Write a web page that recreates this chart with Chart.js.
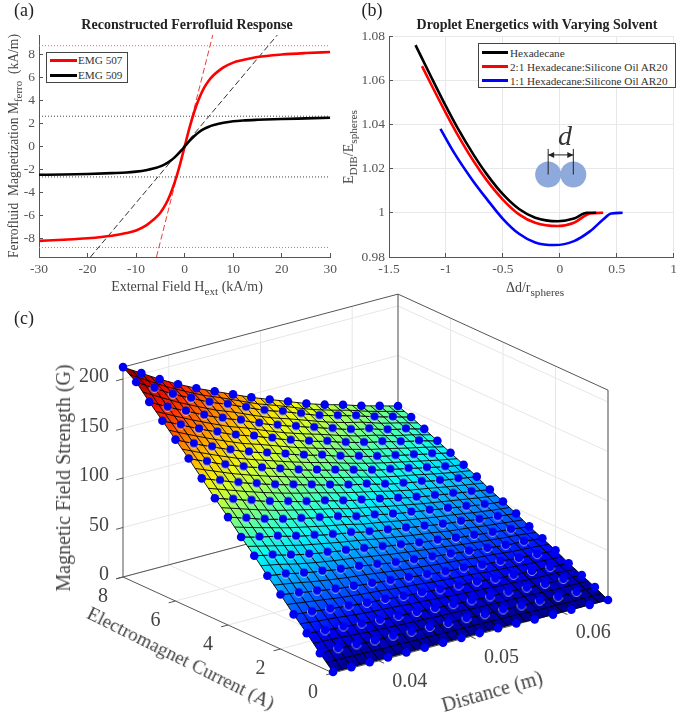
<!DOCTYPE html>
<html>
<head>
<meta charset="utf-8">
<title>Ferrofluid figure</title>
<script src="https://cdn.jsdelivr.net/npm/chart.js@4"></script>
<style>
  html, body { margin: 0; padding: 0; background: #fff; }
  #page { position: relative; width: 685px; height: 718px; overflow: hidden; font-family: "Liberation Serif", serif; color: #444; }
  canvas { position: absolute; }
  .t { position: absolute; white-space: nowrap; transform: translate(-50%, -50%); line-height: 1; }
  .t sub { font-size: 0.8em; line-height: 0; }
  .v { transform: translate(-50%, -50%) rotate(-90deg); }
  .title { font-weight: bold; font-size: 14px; color: #222; }
  .panel { font-size: 18px; color: #222; }
  .legend { position: absolute; background: #fff; border: 1px solid #444; box-sizing: border-box; font-size: 11.2px; color: #333; }
  .legend div { position: absolute; white-space: nowrap; line-height: 14px; }
  .legend i { position: absolute; height: 2.5px; }
</style>
</head>
<body>
<div id="page">
  <canvas id="chartC" width="685" height="718" style="left:0;top:0"></canvas>
  <canvas id="chartA" width="345" height="300" style="left:0;top:0"></canvas>
  <canvas id="chartB" width="340" height="300" style="left:345px;top:0"></canvas>

  <div class="t panel" style="left:24px;top:10px">(a)</div>
  <div class="t panel" style="left:372px;top:10px">(b)</div>
  <div class="t panel" style="left:24px;top:318px">(c)</div>

  <div class="t title" style="left:187px;top:25px">Reconstructed Ferrofluid Response</div>
  <div class="t v" style="left:14px;top:146px;font-size:13.6px">Ferrofluid&nbsp; Magnetization M<sub>ferro</sub>&nbsp; (kA/m)</div>
  <div class="t" style="left:187px;top:287px;font-size:14px">External Field H<sub>ext</sub> (kA/m)</div>
  <div class="legend" style="left:46px;top:52px;width:82px;height:31px">
    <i style="left:3px;top:6px;width:27px;background:#f00"></i><div style="left:31px;top:0">EMG 507</div>
    <i style="left:3px;top:21px;width:27px;background:#000"></i><div style="left:31px;top:15px">EMG 509</div>
  </div>

  <div class="t title" style="left:537px;top:25px">Droplet Energetics with Varying Solvent</div>
  <div class="t v" style="left:349px;top:147px;font-size:14px">E<sub>DIB</sub>/E<sub>spheres</sub></div>
  <div class="t" style="left:535px;top:288px;font-size:14px">&Delta;d/r<sub>spheres</sub></div>
  <div class="legend" style="left:478px;top:43px;width:198px;height:45px">
    <i style="left:3px;top:7px;width:26px;background:#000"></i><div style="left:31px;top:2px">Hexadecane</div>
    <i style="left:3px;top:21px;width:26px;background:#f00"></i><div style="left:31px;top:16px">2:1 Hexadecane:Silicone Oil AR20</div>
    <i style="left:3px;top:35px;width:26px;background:#00f"></i><div style="left:31px;top:30px">1:1 Hexadecane:Silicone Oil AR20</div>
  </div>
  <div class="t" style="left:565px;top:136px;font-size:28px;font-style:italic;color:#333">d</div>

  <div class="t v" style="left:63px;top:478px;font-size:20px">Magnetic Field Strength (G)</div>
  <div class="t" style="left:181px;top:658px;font-size:19.2px;transform:translate(-50%,-50%) rotate(26.5deg)">Electromagnet Current (A)</div>
  <div class="t" style="left:492px;top:691px;font-size:20px;transform:translate(-50%,-50%) rotate(-16deg)">Distance (m)</div>
</div>

<script>
// (a) magnetization curves
const hField = [-30, -25, -20, -15, -12, -10, -8, -7, -6, -5, -4, -3, -2, -1, 0, 1, 2, 3, 4, 5, 6, 7, 8, 10, 12, 15, 20, 25, 30];
const emg507 = [-8.2, -8.1, -7.97, -7.75, -7.52, -7.3, -6.88, -6.55, -6.2, -5.75, -5.1, -4.2, -3.05, -1.63, 0, 1.63, 3.05, 4.2, 5.1, 5.75, 6.22, 6.58, 6.88, 7.3, 7.52, 7.78, 8, 8.13, 8.22];
const emg509 = [-2.45, -2.43, -2.38, -2.31, -2.26, -2.18, -2.06, -1.96, -1.86, -1.72, -1.52, -1.26, -0.92, -0.49, 0, 0.49, 0.92, 1.27, 1.53, 1.73, 1.87, 1.98, 2.07, 2.2, 2.27, 2.33, 2.4, 2.45, 2.5];
const slope507X = [-5.8, 5.8];
const slope509X = [-19.4, 19.1];
const slopeY = [-9.6, 9.7];
const sat507 = 8.77;
const sat509 = 2.64;
const xTicksA = [-30, -20, -10, 0, 10, 20, 30];
const yTicksA = [-8, -6, -4, -2, 0, 2, 4, 6, 8];

// (b) droplet energy curves
const hexX = [-1.267, -1.125, -0.997, -0.898, -0.755, -0.642, -0.5, -0.358, -0.216, -0.017, 0.125, 0.239, 0.32];
const hexY = [1.0759, 1.061, 1.0479, 1.0384, 1.0261, 1.0175, 1.0084, 1.0017, 0.9978, 0.9962, 0.9974, 1.0, 1.0];
const mix21X = [-1.21, -1.125, -0.997, -0.898, -0.755, -0.642, -0.5, -0.358, -0.216, -0.017, 0.125, 0.267, 0.381];
const mix21Y = [1.0664, 1.0576, 1.0448, 1.0354, 1.0232, 1.0148, 1.006, 0.9993, 0.9955, 0.994, 0.9955, 0.9997, 1.0];
const mix11X = [-1.048, -0.926, -0.77, -0.642, -0.5, -0.358, -0.216, -0.045, 0.125, 0.267, 0.381, 0.452, 0.552];
const mix11Y = [1.038, 1.027, 1.015, 1.0063, 0.9973, 0.9905, 0.9866, 0.9854, 0.9872, 0.9917, 0.997, 0.9997, 1.0];
const xTicksB = [-1.5, -1, -0.5, 0, 0.5, 1];
const yTicksB = [0.98, 1, 1.02, 1.04, 1.06, 1.08];

// (c) field map: one row per current, one column per distance
const currents = [8, 7.5, 7, 6.5, 6, 5.5, 5, 4.5, 4, 3.5, 3, 2.5, 2, 1.5, 1, 0.5, 0];
const distances = [0.035, 0.037, 0.039, 0.041, 0.043, 0.045, 0.047, 0.049, 0.051, 0.053, 0.055, 0.057, 0.059, 0.061, 0.063, 0.065];
const fieldG = [
  [212, 201, 190, 180, 171, 163, 155, 147, 140, 133, 126, 120, 115, 109, 104, 99],
  [203, 192, 181, 172, 163, 156, 148, 140, 134, 127, 120, 115, 110, 104, 99, 94],
  [189, 179, 170, 161, 153, 146, 138, 131, 125, 119, 113, 107, 103, 97, 93, 88],
  [176, 167, 158, 150, 142, 136, 129, 122, 116, 111, 105, 100, 96, 91, 87, 82],
  [163, 154, 146, 138, 131, 125, 119, 113, 108, 102, 97, 92, 88, 84, 80, 76],
  [150, 142, 134, 127, 121, 115, 109, 104, 99, 94, 89, 85, 81, 77, 73, 70],
  [136, 129, 122, 116, 110, 105, 100, 95, 90, 86, 81, 77, 74, 70, 67, 64],
  [122, 116, 110, 104, 99, 94, 90, 85, 81, 77, 73, 69, 66, 63, 60, 57],
  [109, 103, 97, 92, 88, 84, 80, 75, 72, 68, 65, 62, 59, 56, 53, 51],
  [95, 90, 86, 81, 77, 73, 70, 66, 63, 60, 57, 54, 52, 49, 47, 45],
  [82, 78, 73, 69, 66, 63, 60, 57, 54, 51, 49, 46, 44, 42, 40, 38],
  [68, 65, 61, 58, 55, 53, 50, 47, 45, 43, 41, 39, 37, 35, 34, 32],
  [55, 52, 49, 46, 44, 42, 40, 38, 36, 34, 33, 31, 30, 28, 27, 26],
  [41, 39, 37, 35, 33, 32, 30, 29, 27, 26, 25, 23, 22, 21, 20, 19],
  [28, 26, 25, 23, 22, 21, 20, 19, 18, 17, 16, 16, 15, 14, 14, 13],
  [14, 14, 13, 12, 12, 11, 11, 10, 10, 9, 9, 8, 8, 7, 7, 7],
  [1, 1, 1, 1, 1, 1, 1, 1, 1, 1, 1, 0, 0, 0, 0, 0]
];
const zTicksC = [0, 50, 100, 150, 200];
const currentTicksC = [0, 2, 4, 6, 8];
const distanceTicksC = [0.04, 0.05, 0.06];
const zTopC = 212;

const AXIS = '#555';
const SERIF = '"Liberation Serif", serif';

function xy(xs, ys) {
  return xs.map((x, i) => ({ x: x, y: ys[i] }));
}

function curve(xs, ys, color) {
  return { data: xy(xs, ys), borderColor: color, borderWidth: 2.6, showLine: true, pointRadius: 0, cubicInterpolationMode: 'monotone' };
}

function guide(xs, ys, color, dash) {
  return { data: xy(xs, ys), borderColor: color, borderWidth: 1, borderDash: dash, showLine: true, pointRadius: 0 };
}

// 2d axis with inward MATLAB ticks and a fixed label band
function axis(min, max, ticks, band, gridColor) {
  return {
    min: min, max: max,
    afterBuildTicks: s => { s.ticks = ticks.map(v => ({ value: v })); },
    afterFit: s => { if (s.isHorizontal()) s.height = band; else s.width = band; },
    border: { color: AXIS, width: 1 },
    grid: { display: true, drawOnChartArea: !!gridColor, color: gridColor || AXIS, tickColor: AXIS, tickLength: -4, z: -1 },
    ticks: { color: AXIS, font: { family: SERIF, size: 13.5 }, padding: 8, maxRotation: 0, autoSkip: false, callback: v => String(v) }
  };
}

function flatOptions(padding, xAxis, yAxis) {
  return {
    responsive: false, animation: false, events: [],
    layout: { padding: padding, autoPadding: false },
    plugins: { legend: { display: false }, tooltip: { enabled: false } },
    scales: { x: xAxis, y: yAxis }
  };
}

new Chart(document.getElementById('chartA'), {
  type: 'scatter',
  data: {
    datasets: [
      curve(hField, emg509, '#000'),
      curve(hField, emg507, '#f00'),
      guide(slope507X, slopeY, '#f03c3c', [6, 3]),
      guide(slope509X, slopeY, '#333', [6, 3]),
      guide([-30, 30], [sat507, sat507], '#f06060', [1, 2]),
      guide([-30, 30], [-sat507, -sat507], '#f06060', [1, 2]),
      guide([-30, 30], [sat509, sat509], '#444', [1, 2]),
      guide([-30, 30], [-sat509, -sat509], '#444', [1, 2])
    ]
  },
  options: flatOptions({ top: 35, right: 10 }, axis(-30, 30, xTicksA, 43), axis(-9.6, 9.7, yTicksA, 39))
});

// droplet sketch inside (b)
const insetPlugin = {
  id: 'inset',
  beforeDatasetsDraw(chart) {
    const { x, y } = chart.scales;
    const c = chart.ctx;
    const x1 = x.getPixelForValue(-0.102), x2 = x.getPixelForValue(0.119);
    const yc = y.getPixelForValue(1.0173), ya = y.getPixelForValue(1.0262), yt = y.getPixelForValue(1.0289);
    c.save();
    c.fillStyle = '#8ea9db';
    [x1, x2].forEach(px => { c.beginPath(); c.arc(px, yc, 13, 0, Math.PI * 2); c.fill(); });
    c.restore();
    c.save();
    c.strokeStyle = '#222'; c.fillStyle = '#222'; c.lineWidth = 1;
    c.beginPath();
    c.moveTo(x1, yt); c.lineTo(x1, yc);
    c.moveTo(x2, yt); c.lineTo(x2, yc);
    c.moveTo(x1, ya); c.lineTo(x2, ya);
    c.stroke();
    c.beginPath();
    c.moveTo(x1, ya); c.lineTo(x1 + 6, ya - 3); c.lineTo(x1 + 6, ya + 3); c.closePath();
    c.moveTo(x2, ya); c.lineTo(x2 - 6, ya - 3); c.lineTo(x2 - 6, ya + 3); c.closePath();
    c.fill();
    c.restore();
  }
};

new Chart(document.getElementById('chartB'), {
  type: 'scatter',
  data: {
    datasets: [
      curve(hexX, hexY, '#000'),
      curve(mix21X, mix21Y, '#f00'),
      curve(mix11X, mix11Y, '#00f')
    ]
  },
  options: flatOptions({ top: 36, right: 2 }, axis(-1.5, 1, xTicksB, 43, '#e8e8e8'), axis(0.98, 1.08, yTicksB, 44, '#e8e8e8')),
  plugins: [insetPlugin]
});

// (c) fixed 3d view projected to page coordinates
const dMin = distances[0], dMax = distances[distances.length - 1], iMax = currents[0];

function project(d, current, z) {
  const t = (d - dMin) / (dMax - dMin), s = current / iMax;
  return { x: 333 + 275 * t - 210 * s, y: 673 - 73 * t - 96 * s - 0.99 * z };
}

function jet(z) {
  const v = Math.min(1, Math.max(0, z / zTopC));
  const ch = c => Math.round(255 * Math.min(1, Math.max(0, 1.5 - Math.abs(4 * v - c))));
  return `rgb(${ch(3)},${ch(2)},${ch(1)})`;
}

function polyline(points, color, width) {
  return { data: points, borderColor: color, borderWidth: width, showLine: true, pointRadius: 0 };
}

function segment(a, b, color, width) {
  return polyline([project(a[0], a[1], a[2]), project(b[0], b[1], b[2])], color, width);
}

const ctxC = document.getElementById('chartC').getContext('2d');

function quad(r, k) {
  const corners = [[r, k], [r, k + 1], [r + 1, k + 1], [r + 1, k]].map(([i, j]) => ({
    z: fieldG[i][j],
    p: project(distances[j], currents[i], fieldG[i][j])
  }));
  const sorted = corners.slice().sort((a, b) => a.z - b.z);
  const lo = sorted[0], hi = sorted[3];
  const grad = ctxC.createLinearGradient(lo.p.x, lo.p.y, hi.p.x, hi.p.y);
  grad.addColorStop(0, jet(lo.z));
  grad.addColorStop(1, jet(hi.z));
  const pts = corners.map(c => c.p);
  pts.push(pts[0]);
  return { data: pts, showLine: true, fill: 'shape', backgroundColor: grad, borderColor: 'rgba(0,0,0,0.9)', borderWidth: 1, pointRadius: 0 };
}

const surface = [];
for (let r = 0; r < currents.length - 1; r++) {
  for (let k = 0; k < distances.length - 1; k++) surface.push(quad(r, k));
}

const walls = [];
const GRID = '#e6e6e6', BOX = '#555';
distanceTicksC.forEach(d => {
  walls.push(segment([d, iMax, 0], [d, iMax, zTopC], GRID, 1));
  walls.push(segment([d, 0, 0], [d, iMax, 0], GRID, 1));
});
currentTicksC.forEach(c => {
  walls.push(segment([dMax, c, 0], [dMax, c, zTopC], GRID, 1));
  walls.push(segment([dMin, c, 0], [dMax, c, 0], GRID, 1));
});
zTicksC.forEach(z => {
  walls.push(segment([dMin, iMax, z], [dMax, iMax, z], GRID, 1));
  walls.push(segment([dMax, iMax, z], [dMax, 0, z], GRID, 1));
});
const box = [
  [[dMin, iMax, 0], [dMin, iMax, zTopC]], [[dMax, iMax, 0], [dMax, iMax, zTopC]], [[dMax, 0, 0], [dMax, 0, zTopC]],
  [[dMin, iMax, zTopC], [dMax, iMax, zTopC]], [[dMax, iMax, zTopC], [dMax, 0, zTopC]],
  [[dMin, iMax, 0], [dMax, iMax, 0]], [[dMax, iMax, 0], [dMax, 0, 0]],
  [[dMin, iMax, 0], [dMin, 0, 0]], [[dMin, 0, 0], [dMax, 0, 0]]
].map(b => segment(b[0], b[1], BOX, 1));
zTicksC.forEach(z => box.push(segment([dMin, iMax, z], [dMin - 0.00075, iMax, z], BOX, 1)));
currentTicksC.forEach(c => box.push(segment([dMin, c, 0], [dMin - 0.00075, c, 0], BOX, 1)));
distanceTicksC.forEach(d => box.push(segment([d, 0, 0], [d, -0.2, 0], BOX, 1)));

const dotPoints = [];
currents.forEach((c, r) => distances.forEach((d, k) => dotPoints.push(project(d, c, fieldG[r][k]))));

// inner markers sit partly in the surface, so they show a pale rim below
const rimDot = document.createElement('canvas');
rimDot.width = 12; rimDot.height = 12;
const rc = rimDot.getContext('2d');
rc.strokeStyle = 'rgba(205,215,255,0.75)'; rc.lineWidth = 1;
rc.beginPath(); rc.arc(6, 6, 4.5, 0.05 * Math.PI, 1.1 * Math.PI); rc.stroke();
rc.fillStyle = '#0000f0';
rc.beginPath(); rc.arc(6, 5.6, 4, 0, Math.PI * 2); rc.fill();

function isEdgeDot(i) {
  const r = Math.floor(i / distances.length), k = i % distances.length;
  return r === 0 || k === 0 || r === currents.length - 1 || k === distances.length - 1;
}

const dots = {
  data: dotPoints, showLine: false, backgroundColor: '#0000f0', borderWidth: 0,
  pointRadius: 4.3,
  pointStyle: ctx => (isEdgeDot(ctx.dataIndex) ? 'circle' : rimDot)
};

// hatch lines halfway across each cell; shading only, carries no values of its own
const meshPlugin = {
  id: 'mesh',
  beforeDatasetDraw(chart, args) {
    if (args.index !== 0) return;
    const { x, y } = chart.scales;
    const c = chart.ctx;
    const px = (d, i, z) => {
      const p = project(d, i, z);
      return [x.getPixelForValue(p.x), y.getPixelForValue(p.y)];
    };
    c.save();
    c.strokeStyle = 'rgba(0,0,0,0.9)'; c.lineWidth = 1;
    for (let r = 0; r < currents.length - 1; r++) {
      c.beginPath();
      distances.forEach((d, k) => {
        const p = px(d, (currents[r] + currents[r + 1]) / 2, (fieldG[r][k] + fieldG[r + 1][k]) / 2);
        if (k) c.lineTo(p[0], p[1]); else c.moveTo(p[0], p[1]);
      });
      c.stroke();
    }
    for (let k = 0; k < distances.length - 1; k++) {
      c.beginPath();
      currents.forEach((i, r) => {
        const p = px((distances[k] + distances[k + 1]) / 2, i, (fieldG[r][k] + fieldG[r][k + 1]) / 2);
        if (r) c.lineTo(p[0], p[1]); else c.moveTo(p[0], p[1]);
      });
      c.stroke();
    }
    c.restore();
  }
};

const tickTextPlugin = {
  id: 'tickText',
  afterDraw(chart) {
    const { x, y } = chart.scales;
    const c = chart.ctx;
    const put = (text, p, dx, dy, align) => {
      c.textAlign = align;
      c.fillText(text, x.getPixelForValue(p.x) + dx, y.getPixelForValue(p.y) + dy);
    };
    c.save();
    c.fillStyle = '#444';
    c.font = '20px ' + SERIF;
    c.textBaseline = 'middle';
    zTicksC.forEach(z => put(String(z), project(dMin, iMax, z), -14, -2, 'right'));
    currentTicksC.forEach(i => put(String(i), project(dMin, i, 0), -20, 20, 'center'));
    distanceTicksC.forEach(d => put(String(d), project(d, 0, 0), 31, 21, 'center'));
    c.restore();
  }
};

new Chart(ctxC, {
  type: 'scatter',
  data: { datasets: [dots].concat(surface, box, walls) },
  options: {
    responsive: false, animation: false, events: [],
    layout: { padding: 0, autoPadding: false },
    plugins: { legend: { display: false }, tooltip: { enabled: false } },
    scales: {
      x: { display: false, min: 0, max: 685 },
      y: { display: false, min: 0, max: 718, reverse: true }
    }
  },
  plugins: [meshPlugin, tickTextPlugin]
});
</script>
</body>
</html>
